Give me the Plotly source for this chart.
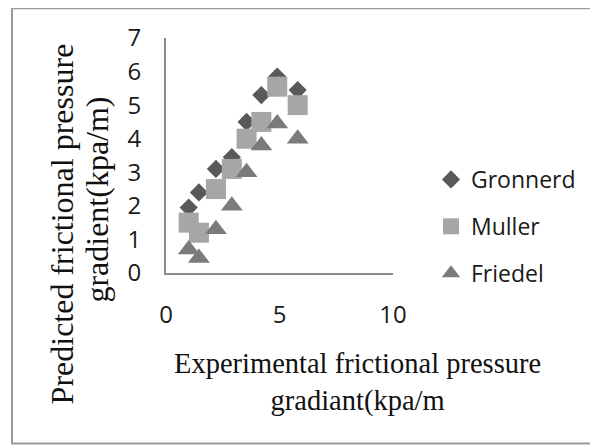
import plotly.graph_objects as go

# Data
experimental = [1.0, 1.45, 2.2, 2.9, 3.55, 4.2, 4.9, 5.8]
gronnerd = [1.95, 2.4, 3.1, 3.45, 4.5, 5.3, 5.85, 5.45]
muller = [1.5, 1.2, 2.5, 3.1, 4.0, 4.5, 5.55, 5.0]
friedel = [0.7, 0.45, 1.3, 2.0, 3.0, 3.8, 4.45, 4.0]

series = [
    ("Gronnerd", gronnerd, "diamond", 14, "#595959"),
    ("Muller", muller, "square", 20, "#a6a6a6"),
    ("Friedel", friedel, "triangle-up", 19, "#7b7b7b"),
]

W, H = 598, 446
PAGE_OFF = 8  # default body margin of the html page
# plot area as seen in the page
X0, X1, Y0, Y1 = 166, 393, 36, 273
pw, ph = X1 - X0, Y1 - Y0
L, T = X0 - PAGE_OFF, Y0 - PAGE_OFF
R, B = W - L - pw, H - T - ph


def px_x(p):
    return (p - X0) / pw


def px_y(p):
    return (Y1 - p) / ph


fig = go.Figure()
for name, ys, sym, size, col in series:
    fig.add_trace(go.Scatter(
        x=experimental, y=ys, mode="markers", name=name,
        legendgroup=name,
        marker=dict(symbol=sym, size=size, color=col, line=dict(width=0)),
    ))

axis_font = dict(family="Open Sans", size=24, color="#1a1a1a")

fig.update_xaxes(range=[0, 10], dtick=5, showgrid=False, zeroline=False,
                 showline=True, linecolor="#8a8a8a", linewidth=2,
                 tickfont=axis_font, ticklabelstandoff=19)
fig.update_yaxes(range=[0, 7], dtick=1, showgrid=False, zeroline=False,
                 showline=True, linecolor="#8a8a8a", linewidth=2,
                 tickfont=axis_font, ticklabelstandoff=18)

fig.add_annotation(text="Experimental frictional pressure<br>gradiant(kpa/m",
                   xref="paper", yref="paper", x=px_x(357), y=px_y(383),
                   xanchor="center", yanchor="middle", showarrow=False,
                   font=dict(family="Liberation Serif", size=28.5, color="#111111"))
ytitle_font = dict(family="Liberation Serif", size=32, color="#111111")
fig.add_annotation(text="Predicted frictional pressure",
                   xref="paper", yref="paper", x=px_x(62), y=px_y(224),
                   xanchor="center", yanchor="middle", showarrow=False,
                   textangle=-90, font=ytitle_font)
fig.add_annotation(text="gradient(kpa/m)",
                   xref="paper", yref="paper", x=px_x(97), y=px_y(199),
                   xanchor="center", yanchor="middle", showarrow=False,
                   textangle=-90, font=ytitle_font)

# outer chart border
fig.add_shape(type="rect", xref="paper", yref="paper",
              x0=px_x(12), x1=px_x(596), y0=px_y(445), y1=px_y(6),
              line=dict(color="#9a9a9a", width=2), fillcolor="rgba(0,0,0,0)")

fig.update_layout(
    width=W, height=H,
    margin=dict(l=L, r=R, t=T, b=B),
    paper_bgcolor="white", plot_bgcolor="white",
    showlegend=True,
    legend=dict(x=px_x(431), y=px_y(157), xanchor="left", yanchor="top",
                font=dict(family="Open Sans", size=23, color="#1a1a1a"),
                traceorder="grouped", tracegroupgap=14,
                bgcolor="rgba(0,0,0,0)"),
)

fig.write_html("out.html")
